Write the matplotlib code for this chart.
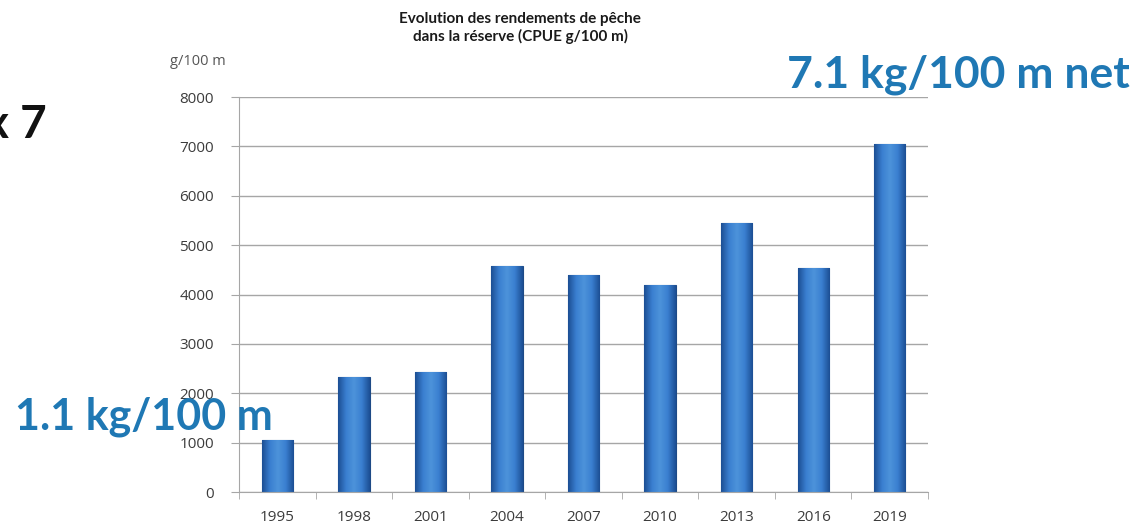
import numpy as np
import matplotlib
matplotlib.use("Agg")
import matplotlib.pyplot as plt
from matplotlib.colors import LinearSegmentedColormap

# ---- data ----
YEARS = ["1995", "1998", "2001", "2004", "2007", "2010", "2013", "2016", "2019"]
CPUE = [1050, 2330, 2430, 4575, 4390, 4190, 5445, 4535, 7050]
Y_TICKS = [0, 1000, 2000, 3000, 4000, 5000, 6000, 7000, 8000]

INK = "#3c3c3c"
GRID = "#a6a6a6"
BLUE_TXT = "#1f78b4"

plt.rcParams["font.family"] = ["Open Sans", "DejaVu Sans"]

fig = plt.figure(figsize=(11.46, 5.29), dpi=100)
fig.patch.set_facecolor("white")
ax = fig.add_axes([0.2086, 0.0699, 0.6012, 0.7467])

x = np.arange(len(YEARS))
bars = ax.bar(x, CPUE, width=0.41, color="#3a78c8", edgecolor="#1d4a86",
              lw=0.8, zorder=2)

# horizontal shading inside each bar (dark edges, light centre)
shade = LinearSegmentedColormap.from_list(
    "shade", ["#1c4f94", "#3a7fd0", "#4d93da", "#3a7fd0", "#1c4f94"])
grad = np.linspace(0, 1, 64).reshape(1, -1)
for b in bars:
    im = ax.imshow(grad, cmap=shade, aspect="auto", zorder=2.5,
                   extent=[b.get_x(), b.get_x() + b.get_width(),
                           0, b.get_height()])
    im.set_clip_path(b)

ax.set_xlim(-0.5, len(YEARS) - 0.5)
ax.set_ylim(0, 8000)
ax.set_yticks(Y_TICKS)
ax.set_yticklabels([str(v) for v in Y_TICKS], fontsize=11, color=INK)
ax.set_xticks(x)
ax.set_xticklabels(YEARS, fontsize=11, color=INK)
ax.set_xticks(np.arange(len(YEARS) + 1) - 0.5, minor=True)
ax.tick_params(axis="x", which="major", length=0, pad=13)
ax.tick_params(axis="x", which="minor", length=5, color=GRID, direction="out")
ax.tick_params(axis="y", length=6, color=GRID, pad=12)
ax.grid(axis="y", color=GRID, lw=1, zorder=0)
ax.set_axisbelow(True)
for s in ("top", "right"):
    ax.spines[s].set_visible(False)
for s in ("left", "bottom"):
    ax.spines[s].set_color(GRID)

fig.text(0.148, 0.877, "g/100 m", fontsize=10.5, color="#555555")
fig.text(0.454, 0.977, "Evolution des rendements de pêche\ndans la réserve (CPUE g/100 m)",
         ha="center", va="top", fontsize=11, fontweight="bold", color="#1a1a1a",
         linespacing=1.25, family=["Lato", "DejaVu Sans"])

fig.text(-0.013, 0.764, "x 7", fontsize=33, fontweight="bold", color="#111111",
         va="center", family=["Lato", "DejaVu Sans"])
fig.text(0.013, 0.212, "1.1 kg/100 m", fontsize=31, fontweight="bold",
         color=BLUE_TXT, va="center", family=["Lato", "DejaVu Sans"])
fig.text(0.986, 0.858, "7.1 kg/100 m net", fontsize=32, fontweight="bold",
         color=BLUE_TXT, va="center", ha="right", family=["Lato", "DejaVu Sans"])

fig.savefig("out.png", facecolor="white")
